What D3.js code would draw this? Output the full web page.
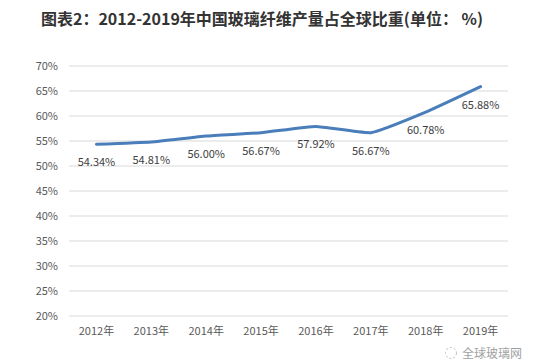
<!DOCTYPE html>
<html>
<head>
<meta charset="utf-8">
<script src="https://cdn.jsdelivr.net/npm/d3@7"></script>
<style>
  body { margin: 0; background: #fff; }
  text { font-family: "Noto Sans CJK SC", "Noto Sans", sans-serif; }
</style>
</head>
<body>
<div id="chart"></div>
<script>
// data
var years = ["2012年", "2013年", "2014年", "2015年", "2016年", "2017年", "2018年", "2019年"];
var shares = [54.34, 54.81, 56.00, 56.67, 57.92, 56.67, 60.78, 65.88];
var yTicks = [20, 25, 30, 35, 40, 45, 50, 55, 60, 65, 70];

var W = 540, H = 363;
var margin = { top: 66, right: 32, bottom: 47, left: 69 };
var width = W - margin.left - margin.right;
var height = H - margin.top - margin.bottom;

var svg = d3.select("#chart").append("svg")
    .attr("width", W)
    .attr("height", H);

// title
svg.append("text")
    .attr("x", 262)
    .attr("y", 25)
    .attr("text-anchor", "middle")
    .style("font-size", "16px")
    .style("font-weight", "bold")
    .attr("fill", "#333")
    .text("图表2：2012-2019年中国玻璃纤维产量占全球比重(单位： %)");

var g = svg.append("g")
    .attr("transform", "translate(" + margin.left + "," + margin.top + ")");

var x = d3.scaleBand()
    .domain(years)
    .range([0, width]);

var y = d3.scaleLinear()
    .domain([20, 70])
    .range([height, 0]);

// gridlines
g.selectAll(".grid")
    .data(yTicks)
    .enter().append("line")
    .attr("class", "grid")
    .attr("x1", 0)
    .attr("x2", width)
    .attr("y1", function(d) { return y(d); })
    .attr("y2", function(d) { return y(d); })
    .attr("stroke", "#d9d9d9")
    .attr("stroke-width", 1);

// y axis
var yAxis = d3.axisLeft(y)
    .tickValues(yTicks)
    .tickSize(0)
    .tickPadding(11)
    .tickFormat(function(d) { return d + "%"; });

g.append("g")
    .attr("class", "y-axis")
    .call(yAxis)
    .call(function(s) { s.select(".domain").remove(); })
    .selectAll("text")
    .style("font-size", "11px")
    .attr("fill", "#595959");

// x axis
var xAxis = d3.axisBottom(x)
    .tickSize(0)
    .tickPadding(11);

g.append("g")
    .attr("class", "x-axis")
    .attr("transform", "translate(0," + height + ")")
    .call(xAxis)
    .call(function(s) { s.select(".domain").remove(); })
    .selectAll("text")
    .style("font-size", "11px")
    .attr("fill", "#595959");

// line (light smoothing, like excel)
var line = d3.line()
    .x(function(d, i) { return x(years[i]) + x.bandwidth() / 2; })
    .y(function(d) { return y(d); })
    .curve(d3.curveCardinal.tension(0.6));

g.append("path")
    .datum(shares)
    .attr("d", line)
    .attr("fill", "none")
    .attr("stroke", "#4a7ebb")
    .attr("stroke-width", 3)
    .attr("stroke-linecap", "round");

// data labels
g.selectAll(".lbl")
    .data(shares)
    .enter().append("text")
    .attr("class", "lbl")
    .attr("x", function(d, i) { return x(years[i]) + x.bandwidth() / 2; })
    .attr("y", function(d) { return y(d) + 22; })
    .attr("text-anchor", "middle")
    .style("font-size", "11px")
    .attr("fill", "#404040")
    .text(function(d) { return d.toFixed(2) + "%"; });

// watermark
var wm = svg.append("g")
    .attr("opacity", 0.8);

wm.append("circle")
    .attr("cx", 451)
    .attr("cy", 353)
    .attr("r", 5.5)
    .attr("fill", "none")
    .attr("stroke", "#b0b0b0")
    .attr("stroke-dasharray", "2,2");

wm.append("text")
    .attr("x", 522)
    .attr("y", 358)
    .attr("text-anchor", "end")
    .style("font-size", "12px")
    .attr("fill", "#8a8a8a")
    .text("全球玻璃网");
</script>
</body>
</html>
